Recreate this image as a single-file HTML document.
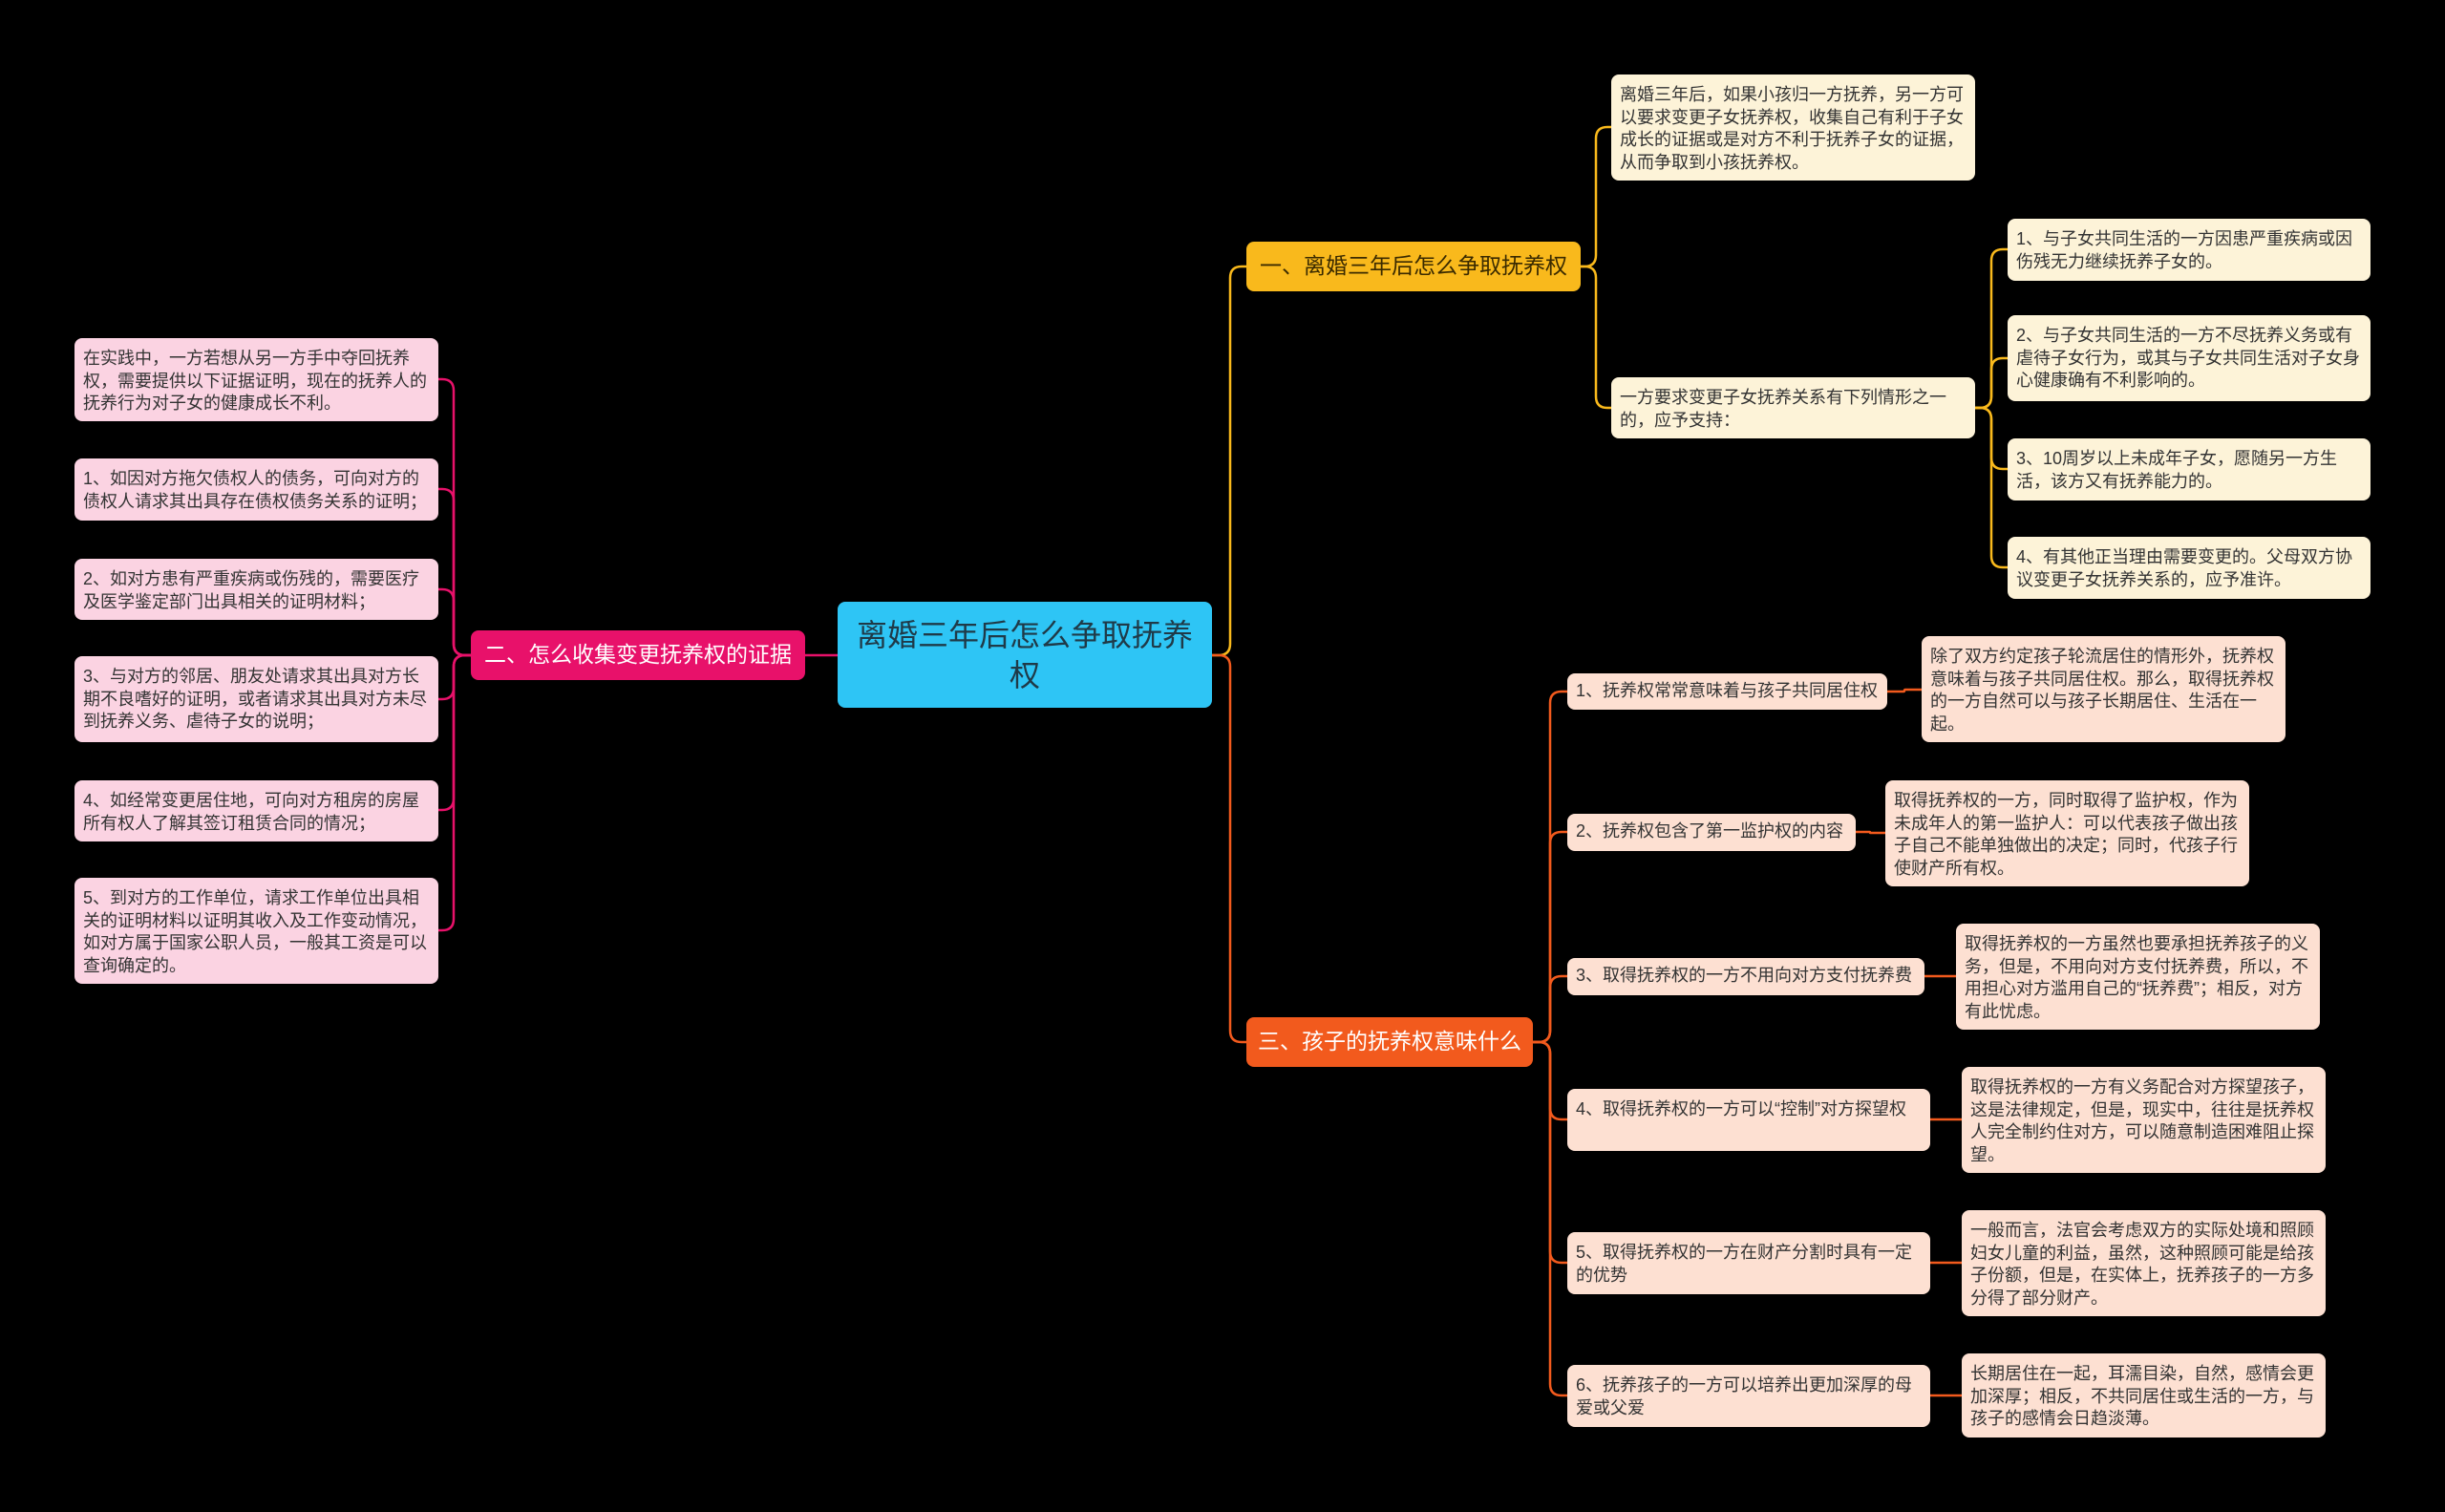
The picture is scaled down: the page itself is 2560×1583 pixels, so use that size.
<!DOCTYPE html>
<html><head><meta charset="utf-8"><style>
body{margin:0;width:2560px;height:1583px;background:#000;position:relative;overflow:hidden;font-family:"Liberation Sans","Noto Sans CJK SC",sans-serif}
.n{position:absolute;box-sizing:border-box;border-radius:8px;color:#333;font-size:18px;line-height:23.5px;padding:10px 9px 8px;word-break:break-all}
.c{background:#fdf3d8}.p{background:#fbd3e2}.o{background:#fde0d2}
.b{display:flex;align-items:center;justify-content:center;font-size:23px;color:#fff;padding:0 8px;white-space:nowrap}
svg{position:absolute;left:0;top:0}
</style></head><body>
<svg id="s" width="2560" height="1583"></svg>

<div class="n b" style="left:877px;top:630px;width:392px;height:111px;background:#2ec5f5;color:#1f3a48;font-size:32px;line-height:42px;white-space:normal;text-align:center">离婚三年后怎么争取抚养权</div>
<div class="n b" style="left:1305px;top:253px;width:350px;height:52px;background:#f9b91c;color:#3a2a00">一、离婚三年后怎么争取抚养权</div>
<div class="n b" style="left:493px;top:660px;width:350px;height:52px;background:#e8116a">二、怎么收集变更抚养权的证据</div>
<div class="n b" style="left:1305px;top:1065px;width:300px;height:52px;background:#f25a1d">三、孩子的抚养权意味什么</div>

<div class="n c" style="left:1687px;top:78px;width:381px;height:111px">离婚三年后，如果小孩归一方抚养，另一方可以要求变更子女抚养权，收集自己有利于子女成长的证据或是对方不利于抚养子女的证据，从而争取到小孩抚养权。</div>
<div class="n c" style="left:1687px;top:395px;width:381px;height:64px">一方要求变更子女抚养关系有下列情形之一的，应予支持：</div>
<div class="n c" style="left:2102px;top:229px;width:380px;height:65px">1、与子女共同生活的一方因患严重疾病或因伤残无力继续抚养子女的。</div>
<div class="n c" style="left:2102px;top:330px;width:380px;height:90px">2、与子女共同生活的一方不尽抚养义务或有虐待子女行为，或其与子女共同生活对子女身心健康确有不利影响的。</div>
<div class="n c" style="left:2102px;top:459px;width:380px;height:65px">3、10周岁以上未成年子女，愿随另一方生活，该方又有抚养能力的。</div>
<div class="n c" style="left:2102px;top:562px;width:380px;height:65px">4、有其他正当理由需要变更的。父母双方协议变更子女抚养关系的，应予准许。</div>

<div class="n p" style="left:78px;top:354px;width:381px;height:87px">在实践中，一方若想从另一方手中夺回抚养权，需要提供以下证据证明，现在的抚养人的抚养行为对子女的健康成长不利。</div>
<div class="n p" style="left:78px;top:480px;width:381px;height:65px">1、如因对方拖欠债权人的债务，可向对方的债权人请求其出具存在债权债务关系的证明；</div>
<div class="n p" style="left:78px;top:585px;width:381px;height:64px">2、如对方患有严重疾病或伤残的，需要医疗及医学鉴定部门出具相关的证明材料；</div>
<div class="n p" style="left:78px;top:687px;width:381px;height:90px">3、与对方的邻居、朋友处请求其出具对方长期不良嗜好的证明，或者请求其出具对方未尽到抚养义务、虐待子女的说明；</div>
<div class="n p" style="left:78px;top:817px;width:381px;height:64px">4、如经常变更居住地，可向对方租房的房屋所有权人了解其签订租赁合同的情况；</div>
<div class="n p" style="left:78px;top:919px;width:381px;height:111px">5、到对方的工作单位，请求工作单位出具相关的证明材料以证明其收入及工作变动情况，如对方属于国家公职人员，一般其工资是可以查询确定的。</div>

<div class="n o" style="left:1641px;top:705px;width:335px;height:38px;padding-top:7px">1、抚养权常常意味着与孩子共同居住权</div>
<div class="n o" style="left:1641px;top:852px;width:302px;height:39px;padding-top:7px">2、抚养权包含了第一监护权的内容</div>
<div class="n o" style="left:1641px;top:1003px;width:374px;height:39px;padding-top:7px">3、取得抚养权的一方不用向对方支付抚养费</div>
<div class="n o" style="left:1641px;top:1140px;width:380px;height:65px">4、取得抚养权的一方可以“控制”对方探望权</div>
<div class="n o" style="left:1641px;top:1290px;width:380px;height:65px">5、取得抚养权的一方在财产分割时具有一定的优势</div>
<div class="n o" style="left:1641px;top:1429px;width:380px;height:65px">6、抚养孩子的一方可以培养出更加深厚的母爱或父爱</div>

<div class="n o" style="left:2012px;top:666px;width:381px;height:111px">除了双方约定孩子轮流居住的情形外，抚养权意味着与孩子共同居住权。那么，取得抚养权的一方自然可以与孩子长期居住、生活在一起。</div>
<div class="n o" style="left:1974px;top:817px;width:381px;height:111px">取得抚养权的一方，同时取得了监护权，作为未成年人的第一监护人：可以代表孩子做出孩子自己不能单独做出的决定；同时，代孩子行使财产所有权。</div>
<div class="n o" style="left:2048px;top:967px;width:381px;height:111px">取得抚养权的一方虽然也要承担抚养孩子的义务，但是，不用向对方支付抚养费，所以，不用担心对方滥用自己的“抚养费”；相反，对方有此忧虑。</div>
<div class="n o" style="left:2054px;top:1117px;width:381px;height:111px">取得抚养权的一方有义务配合对方探望孩子，这是法律规定，但是，现实中，往往是抚养权人完全制约住对方，可以随意制造困难阻止探望。</div>
<div class="n o" style="left:2054px;top:1267px;width:381px;height:111px">一般而言，法官会考虑双方的实际处境和照顾妇女儿童的利益，虽然，这种照顾可能是给孩子份额，但是，在实体上，抚养孩子的一方多分得了部分财产。</div>
<div class="n o" style="left:2054px;top:1417px;width:381px;height:88px">长期居住在一起，耳濡目染，自然，感情会更加深厚；相反，不共同居住或生活的一方，与孩子的感情会日趋淡薄。</div>

<script>
var s=document.getElementById('s'),h='';
function L(x1,y1,vx,x2,y2,c){var r=Math.min(12,Math.abs(y2-y1)/2),d=y2>y1?1:-1,sx=x2>x1?1:-1;
var p='M'+x1+' '+y1+' H'+(vx-sx*r)+' Q'+vx+' '+y1+' '+vx+' '+(y1+d*r)+' V'+(y2-d*r)+' Q'+vx+' '+y2+' '+(vx+sx*r)+' '+y2+' H'+x2;
if(y1==y2)p='M'+x1+' '+y1+' H'+x2;
h+='<path d="'+p+'" fill="none" stroke="'+c+'" stroke-width="2.5"/>';}
L(1269,686,1288,1305,279,'#f9b91c');L(1269,686,1288,1305,1091,'#f25a1d');
L(877,686,860,843,686,'#e8116a');
L(1655,279,1671,1687,133,'#f9b91c');L(1655,279,1671,1687,427,'#f9b91c');
[261,375,491,594].forEach(function(y){L(2068,427,2085,2102,y,'#f9b91c')});
[397,512,617,732,848,974].forEach(function(y){L(493,686,475,459,y,'#e8116a')});
[724,871,1022,1172,1322,1461].forEach(function(y){L(1605,1091,1623,1641,y,'#f25a1d')});
L(1976,724,1994,2012,722,'#f25a1d');L(1943,871,1958,1974,872,'#f25a1d');
L(2015,1022,2030,2048,1022,'#f25a1d');L(2021,1172,2037,2054,1172,'#f25a1d');
L(2021,1322,2037,2054,1322,'#f25a1d');L(2021,1461,2037,2054,1461,'#f25a1d');
s.innerHTML=h;
</script>
</body></html>
